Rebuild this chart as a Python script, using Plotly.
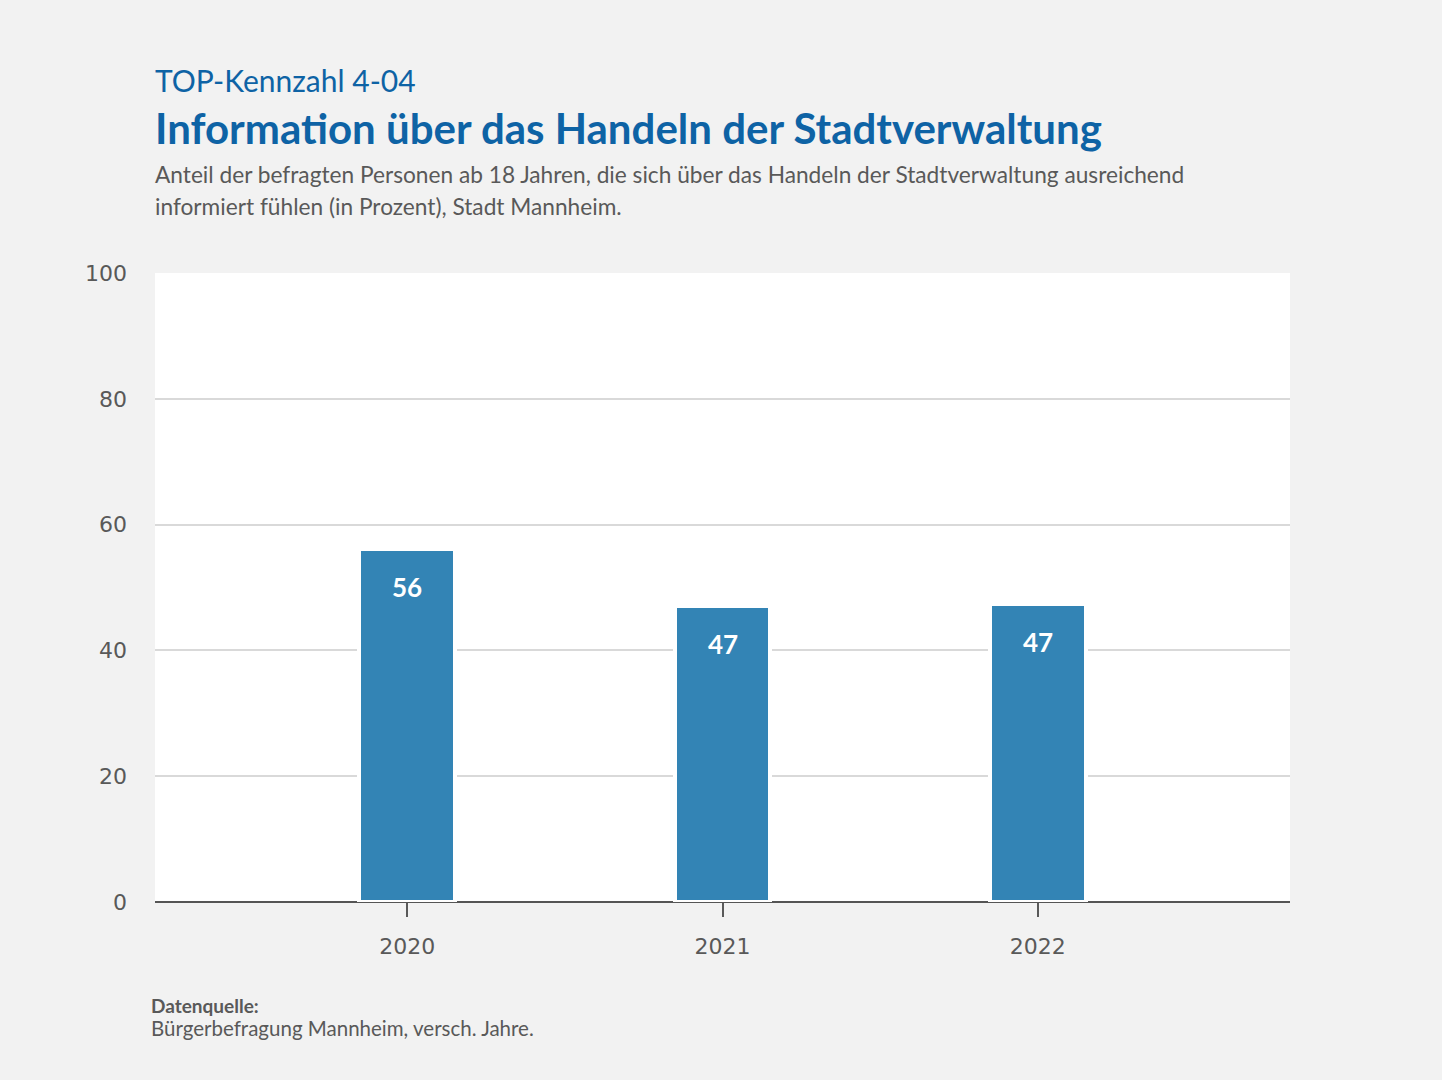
import plotly.graph_objects as go

years = ["2020", "2021", "2022"]
values = [56.1, 47.0, 47.4]
labels = ["56", "47", "47"]
y_ticks = [0, 20, 40, 60, 80, 100]

blue = "#3384b5"
title_blue = "#0e63a5"
gray = "#595959"
font_main = "Lato"
font_ticks = "DejaVu Sans"

fig = go.Figure()
fig.add_trace(go.Bar(
    x=list(range(len(years))), y=values,
    width=0.304,
    marker=dict(color=blue, line=dict(color="white", width=4)),
    hoverinfo="skip",
))

for i, (v, lab) in enumerate(zip(values, labels)):
    fig.add_annotation(x=i, y=v, xref="x", yref="y", text=lab, showarrow=False,
                       yanchor="top", yshift=-20,
                       font=dict(family=font_main, size=26, color="white", weight="bold"))

def py(p):
    return (902 - p) / 629.0

annos = [
    ("TOP-Kennzahl 4-04", 80, 30, title_blue, "normal", 0),
    ("Information über das Handeln der Stadtverwaltung", 128, 42, title_blue, "bold", 0),
    ("Anteil der befragten Personen ab 18 Jahren, die sich über das Handeln der Stadtverwaltung ausreichend", 175, 22.7, gray, "normal", 0),
    ("informiert fühlen (in Prozent), Stadt Mannheim.", 206, 22.7, gray, "normal", 0),
    ("Datenquelle:", 1006, 19, gray, "bold", -4),
    ("Bürgerbefragung Mannheim, versch. Jahre.", 1028, 20.5, gray, "normal", -4),
]
for text, ypix, size, color, weight, dx in annos:
    fig.add_annotation(x=0, y=py(ypix), xref="paper", yref="paper", text=text,
                       showarrow=False, xanchor="left", yanchor="middle", xshift=dx - 2,
                       font=dict(family=font_main, size=size, color=color, weight=weight))

fig.update_layout(
    width=1442, height=1080,
    paper_bgcolor="#f2f2f2", plot_bgcolor="white",
    margin=dict(l=155, r=152, t=273, b=178),
    showlegend=False,
    bargap=0,
    font=dict(family=font_main, color=gray),
)
fig.update_xaxes(
    range=[-0.8, 2.8], tickmode="array", tickvals=list(range(len(years))), ticktext=years,
    showgrid=False, zeroline=False, showline=False,
    ticks="outside", ticklen=14, tickwidth=2, tickcolor=gray,
    tickfont=dict(family=font_ticks, size=22, color=gray), ticklabelstandoff=11,
)
fig.update_yaxes(
    range=[0, 100], tickvals=y_ticks, showgrid=True, gridcolor="#d9d9d9", gridwidth=2,
    zeroline=True, zerolinecolor="#555555", zerolinewidth=2, showline=False,
    tickfont=dict(family=font_ticks, size=22, color=gray), ticklabelstandoff=27,
)

fig.write_html("out.html", config={"displayModeBar": False},
               post_script="document.body.style.margin='0';")
